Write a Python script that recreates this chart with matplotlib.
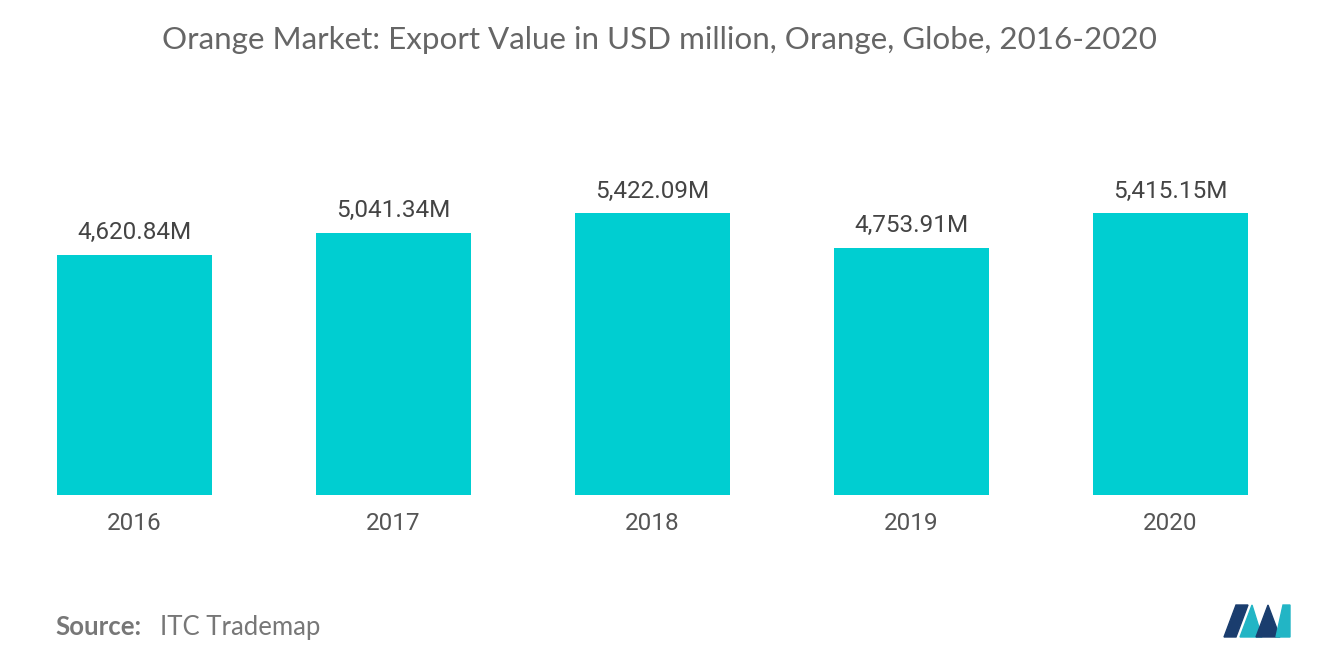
import matplotlib
matplotlib.use("Agg")
import matplotlib.pyplot as plt
from matplotlib.patches import Polygon

years = ["2016", "2017", "2018", "2019", "2020"]
values = [4620.84, 5041.34, 5422.09, 4753.91, 5415.15]
labels = ["4,620.84M", "5,041.34M", "5,422.09M", "4,753.91M", "5,415.15M"]

W, H = 1320, 665
fig = plt.figure(figsize=(W/100, H/100), dpi=100)
ax = fig.add_axes([5/W, 1-495/H, 1295/W, 312/H])
x = range(len(years))
ax.bar(x, values, width=155/259, color="#00CED1")
ax.set_xlim(-0.5, 4.5)
ax.set_ylim(0, 6000)
for i, v in enumerate(values):
    ax.text(i, v + 200, labels[i], ha="center", va="bottom", fontsize=17.5,
            color="#444444", family="Roboto")
ax.set_xticks(list(x))
ax.set_xticklabels(years, fontsize=17.5, color="#555555", family="Roboto")
ax.tick_params(axis="x", length=0, pad=12)
ax.set_yticks([])
for s in ax.spines.values():
    s.set_visible(False)

fig.text(0.5, 1-40/H, "Orange Market: Export Value in USD million, Orange, Globe, 2016-2020",
         ha="center", va="center", fontsize=22.6, color="#666666", family="Lato")
fig.text(55/W, 1-627/H, "Source:", ha="left", va="center", fontsize=18.5,
         color="#777777", family="Lato", weight="bold")
fig.text(160/W, 1-627/H, "ITC Trademap", ha="left", va="center", fontsize=18.5,
         color="#777777", family="Lato")

def poly(pts, c):
    fig.patches.append(Polygon([(px/W, 1-py/H) for px, py in pts], closed=True,
                               transform=fig.transFigure, color=c))
poly([(1224, 637), (1236, 605), (1248, 605), (1236, 637)], "#1a3d6e")
poly([(1240, 637), (1252, 605), (1262, 637)], "#22b5c5")
poly([(1256, 637), (1268, 605), (1280, 637)], "#1a3d6e")
poly([(1276, 637), (1283, 605), (1290, 605), (1290, 637)], "#22b5c5")

fig.savefig("out.png", dpi=100)
